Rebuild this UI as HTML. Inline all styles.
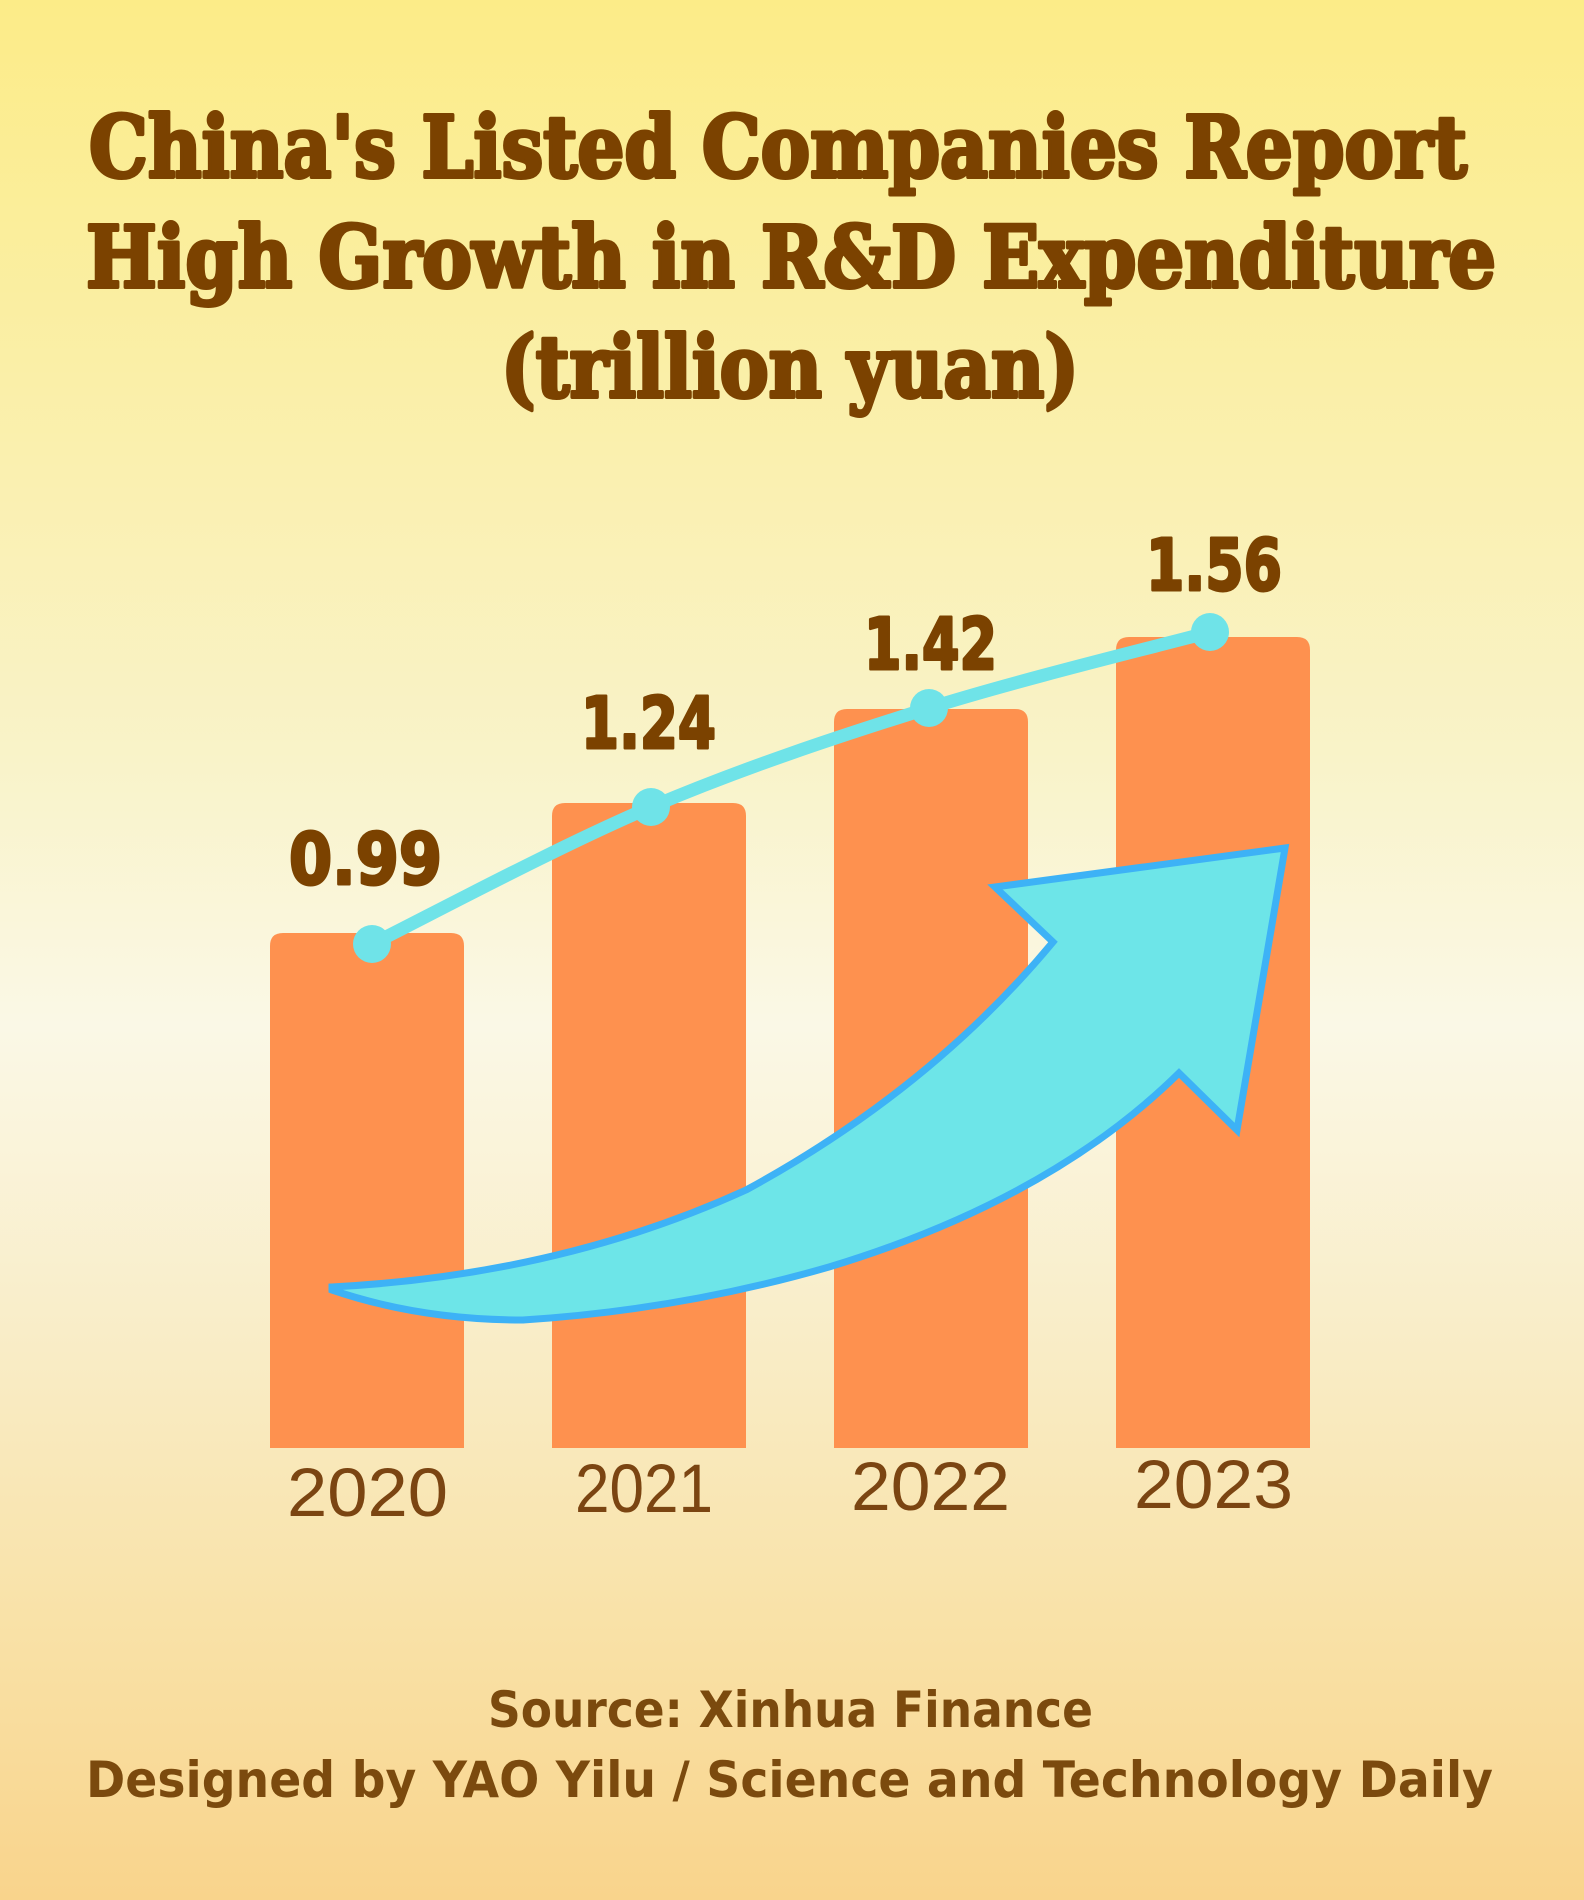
<!DOCTYPE html>
<html>
<head>
<meta charset="utf-8">
<style>
  html, body { margin: 0; padding: 0; }
  body { width: 1584px; height: 1900px; overflow: hidden; }
  svg { display: block; }
</style>
</head>
<body>
<svg width="1584" height="1900" viewBox="0 0 1584 1900" xmlns="http://www.w3.org/2000/svg">
  <defs>
    <linearGradient id="bg" x1="0" y1="0" x2="0" y2="1">
      <stop offset="0" stop-color="#FCEC88"/>
      <stop offset="0.2" stop-color="#FAEFA8"/>
      <stop offset="0.4" stop-color="#F9F3C9"/>
      <stop offset="0.54" stop-color="#FAF8E6"/>
      <stop offset="0.7" stop-color="#F9EDC8"/>
      <stop offset="0.85" stop-color="#F9E2A8"/>
      <stop offset="1" stop-color="#F9D48C"/>
    </linearGradient>
  </defs>
  <rect x="0" y="0" width="1584" height="1900" fill="url(#bg)"/>

  <!-- Title -->
  <g font-family="'DejaVu Serif', 'Liberation Serif', serif" font-weight="bold" font-size="85" fill="#7B4200" stroke="#7B4200" stroke-width="4" stroke-linejoin="round">
    <text x="89" y="177" textLength="1378" lengthAdjust="spacingAndGlyphs">China's Listed Companies Report</text>
    <text x="86" y="287" textLength="1410" lengthAdjust="spacingAndGlyphs">High Growth in R&amp;D Expenditure</text>
    <text x="501" y="397" textLength="578" lengthAdjust="spacingAndGlyphs">(trillion yuan)</text>
  </g>

  <!-- Bars -->
  <g fill="#FE914F">
    <path d="M270,1448 L270,946 Q270,933 283,933 L451,933 Q464,933 464,946 L464,1448 Z"/>
    <path d="M552,1448 L552,816 Q552,803 565,803 L733,803 Q746,803 746,816 L746,1448 Z"/>
    <path d="M834,1448 L834,722 Q834,709 847,709 L1015,709 Q1028,709 1028,722 L1028,1448 Z"/>
    <path d="M1116,1448 L1116,650 Q1116,637 1129,637 L1297,637 Q1310,637 1310,650 L1310,1448 Z"/>
  </g>

  <!-- Arrow -->
  <path d="M332,1287 Q560,1275 746,1190 Q930,1090 1053,942 L995,887 L1285,848 L1237,1130 L1179,1073 Q1050,1200 829,1267 Q680,1310 523,1320 Q420,1320 332,1290 Z"
        fill="#6DE5E8" stroke="#3DB2F6" stroke-width="7" stroke-linejoin="miter"/>

  <!-- Line -->
  <path d="M372,944 C418.5,921.2 558.2,846.3 651,807 C743.8,767.7 835.8,737.2 929,708 C1022.2,678.8 1163.2,644.7 1210,632"
        fill="none" stroke="#6FE3E8" stroke-width="13" stroke-linecap="round"/>
  <g fill="#6FE3E8">
    <circle cx="372" cy="944" r="19"/>
    <circle cx="651" cy="807" r="19"/>
    <circle cx="929" cy="708" r="19"/>
    <circle cx="1210" cy="632" r="19"/>
  </g>

  <!-- Value labels -->
  <g font-family="'DejaVu Sans', 'Liberation Sans', sans-serif" font-weight="bold" font-size="71" fill="#7B4200" stroke="#7B4200" stroke-width="3" stroke-linejoin="round">
    <text x="289" y="884" textLength="153" lengthAdjust="spacingAndGlyphs">0.99</text>
    <text x="581" y="748" textLength="135" lengthAdjust="spacingAndGlyphs">1.24</text>
    <text x="864" y="669" textLength="133" lengthAdjust="spacingAndGlyphs">1.42</text>
    <text x="1146" y="590" textLength="136" lengthAdjust="spacingAndGlyphs">1.56</text>
  </g>

  <!-- Year labels -->
  <g font-family="'Liberation Sans', 'DejaVu Sans', sans-serif" font-size="69" fill="#7B4512">
    <text x="287" y="1516" textLength="161" lengthAdjust="spacingAndGlyphs">2020</text>
    <text x="575" y="1512" textLength="138" lengthAdjust="spacingAndGlyphs">2021</text>
    <text x="851" y="1510" textLength="159" lengthAdjust="spacingAndGlyphs">2022</text>
    <text x="1134" y="1508" textLength="159" lengthAdjust="spacingAndGlyphs">2023</text>
  </g>

  <!-- Footer -->
  <g font-family="'DejaVu Sans', 'Liberation Sans', sans-serif" font-weight="bold" font-size="50" fill="#7B4A0E">
    <text x="488" y="1727" textLength="605" lengthAdjust="spacingAndGlyphs">Source: Xinhua Finance</text>
    <text x="86" y="1797" textLength="1407" lengthAdjust="spacingAndGlyphs">Designed by YAO Yilu / Science and Technology Daily</text>
  </g>
</svg>
</body>
</html>
